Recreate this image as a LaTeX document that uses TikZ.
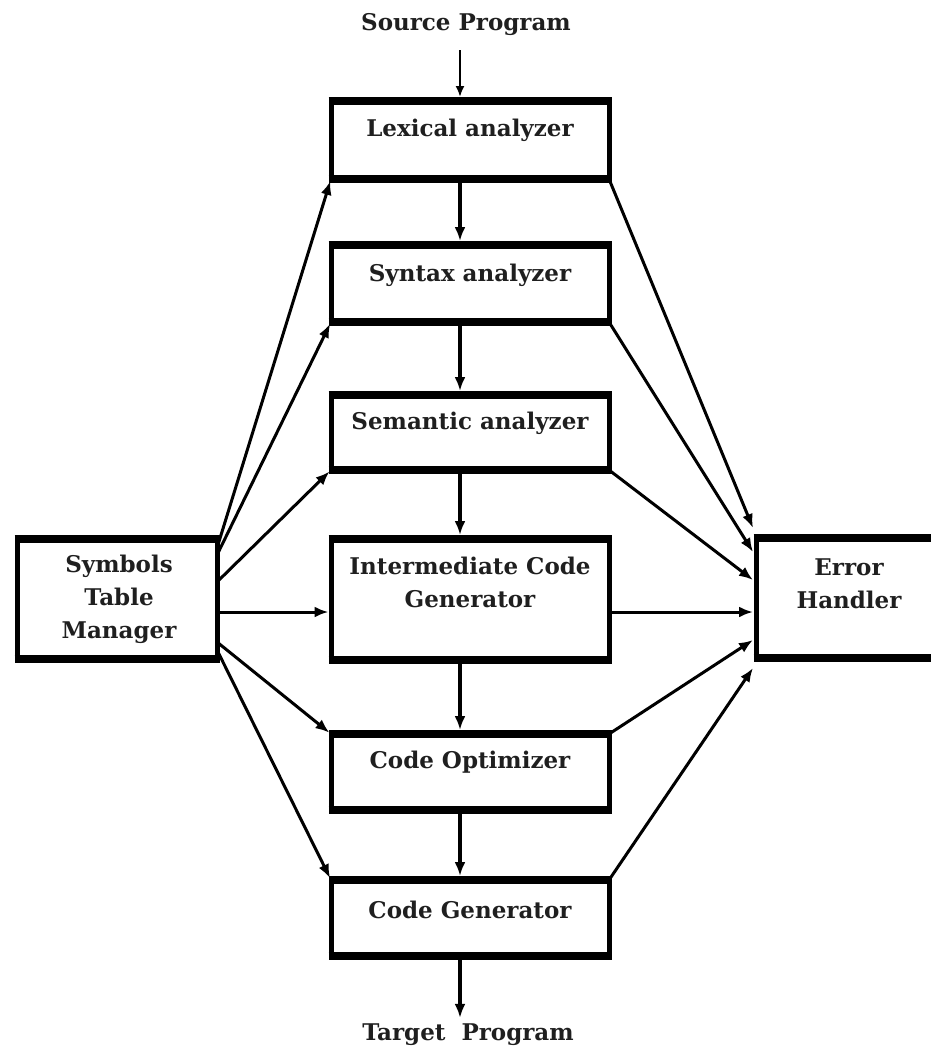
\documentclass[tikz,border=0pt]{standalone}
\usepackage{fontspec}
\setmainfont{DejaVu Serif}
\usetikzlibrary{arrows.meta}
\begin{document}
\begin{tikzpicture}[x=1pt,y=-1pt,
  box/.style={rectangle, draw=none, outer sep=0pt, inner sep=0pt},
  side/.style={line width=5pt},
  rim/.style={line width=8pt},
  lbl/.style={font=\bfseries\fontsize{23}{33}\selectfont, text=black!88, align=center, inner sep=0pt},
  flow/.style={line width=3.5pt, -{Latex[length=14pt,width=11pt]}},
  feed/.style={line width=3pt, -{Latex[length=14pt,width=11pt]}},
  thinflow/.style={line width=2pt, -{Latex[length=11pt,width=9pt]}},
]
\useasboundingbox (0,0) rectangle (931,1055);
\clip (0,0) rectangle (931,1055);

% phases of the compiler
\node[box, minimum width=278pt, minimum height=78pt,
      label={[lbl,yshift=10pt]center:Lexical analyzer}] (lex) at (470,140) {};
\node[box, minimum width=278pt, minimum height=77pt,
      label={[lbl,yshift=8.5pt]center:Syntax analyzer}] (syn) at (470,283.5) {};
\node[box, minimum width=278pt, minimum height=75pt,
      label={[lbl,yshift=9.5pt]center:Semantic analyzer}] (sem) at (470,432.5) {};
\node[box, minimum width=278pt, minimum height=121pt,
      label={[lbl,yshift=17pt]center:Intermediate Code\\Generator}] (icg) at (470,599.5) {};
\node[box, minimum width=278pt, minimum height=76pt,
      label={[lbl,yshift=10pt]center:Code Optimizer}] (opt) at (470,772) {};
\node[box, minimum width=278pt, minimum height=76pt,
      label={[lbl,yshift=8pt]center:Code Generator}] (gen) at (470,918) {};

% side components
\node[box, minimum width=200pt, minimum height=120pt,
      label={[lbl,xshift=2pt]center:Symbols\\Table\\Manager}] (sym) at (117,599) {};
\node[box, minimum width=186pt, minimum height=120pt,
      label={[lbl,yshift=14pt]center:Error\\Handler}] (err) at (849,598) {};

% box outlines: thin sides, heavy top and bottom rims
\foreach \n in {lex,syn,sem,icg,opt,gen,sym,err}{
  \draw[side] (\n.north west) rectangle (\n.south east);
  \draw[rim] ([xshift=-2.5pt]\n.north west) -- ([xshift=2.5pt]\n.north east)
             ([xshift=-2.5pt]\n.south west) -- ([xshift=2.5pt]\n.south east);
}

% input and output
\node[lbl] (src) at (466,25) {Source Program};
\node[lbl] (tgt) at (468,1035) {Target\ \ Program};

\coordinate (axis) at (460,0);
\coordinate (mid) at (0,612);

% main pipeline
\draw[thinflow, shorten <=14pt, shorten >=4pt] (src.south -| axis) -- (lex.north -| axis);
\draw[flow, shorten <=4pt, shorten >=4pt] (lex.south -| axis) -- (syn.north -| axis);
\draw[flow, shorten <=4pt, shorten >=4pt] (syn.south -| axis) -- (sem.north -| axis);
\draw[flow, shorten <=4pt, shorten >=4pt] (sem.south -| axis) -- (icg.north -| axis);
\draw[flow, shorten <=4pt, shorten >=4pt] (icg.south -| axis) -- (opt.north -| axis);
\draw[flow, shorten <=4pt, shorten >=4pt] (opt.south -| axis) -- (gen.north -| axis);
\draw[flow, shorten <=4pt, shorten >=6pt] (gen.south -| axis) -- (tgt.north -| axis);

% symbol table links
\draw[feed, shorten >=2pt] ([yshift=-9pt]sym.north east) -- (lex.south west);
\draw[feed, shorten >=2pt] ([yshift=-16pt]sym.north east) -- (syn.south west);
\draw[feed, shorten >=2pt] ([yshift=-43pt]sym.north east) -- (sem.south west);
\draw[feed, shorten >=2.5pt] (sym.east |- mid) -- (icg.west |- mid);
\draw[feed, shorten >=2pt] ([yshift=17pt]sym.south east) -- (opt.north west);
\draw[feed, shorten >=2pt] ([yshift=9pt]sym.south east) -- (gen.north west);

% error reporting links
\draw[feed] (lex.south east) -- ([xshift=-3pt,yshift=10pt]err.north west);
\draw[feed] (syn.south east) -- ([xshift=-3pt,yshift=-14pt]err.north west);
\draw[feed] (sem.south east) -- ([xshift=-3pt,yshift=-42pt]err.north west);
\draw[feed] (icg.east |- mid) -- ([xshift=-3pt]err.west |- mid);
\draw[feed] (opt.north east) -- ([xshift=-3pt,yshift=18pt]err.south west);
\draw[feed] (gen.north east) -- ([xshift=-3pt,yshift=-10pt]err.south west);
\end{tikzpicture}
\end{document}
